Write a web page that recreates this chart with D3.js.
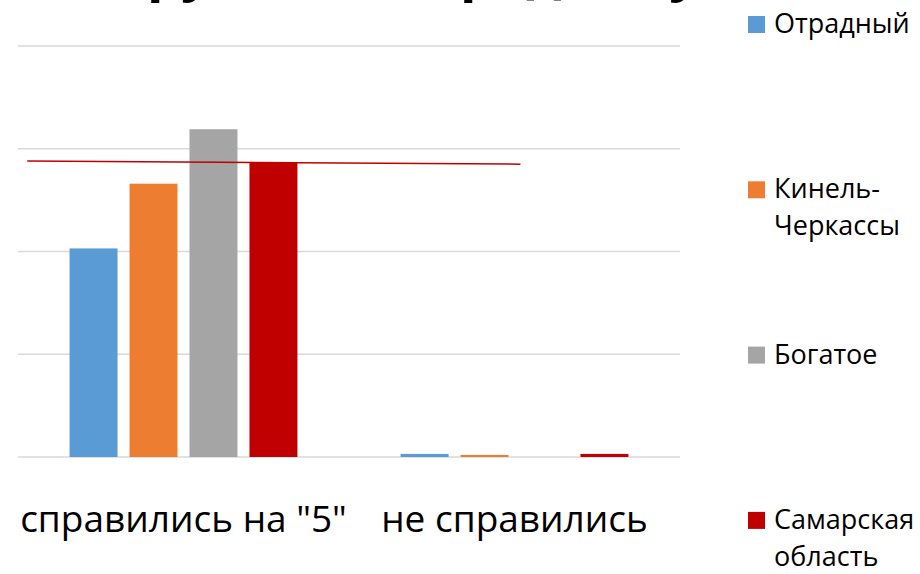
<!DOCTYPE html>
<html>
<head>
<meta charset="utf-8">
<script src="https://cdn.jsdelivr.net/npm/d3@7/dist/d3.min.js"></script>
<style>
  body { margin: 0; background: #fff; }
  svg { display: block; font-family: "Open Sans", "Noto Sans", sans-serif; }
</style>
</head>
<body>
<svg id="chart" width="920" height="574"></svg>
<script>
// data
var categories = ["справились на \"5\"", "не справились"];
var seriesNames = ["Отрадный", "Кинель-Черкассы", "Богатое", "Самарская область"];
var seriesLegend = [["Отрадный"], ["Кинель-", "Черкассы"], ["Богатое"], ["Самарская", "область"]];
var seriesColors = ["#5b9bd5", "#ed7d31", "#a5a5a5", "#c00000"];
var valuesOtradny = [20.3, 0.3];
var valuesKinel = [26.6, 0.2];
var valuesBogatoe = [31.9, 0];
var valuesSamara = [28.7, 0.3];
var yTicks = [0, 10, 20, 30, 40];
var refLine = [28.8, 28.5]; // hand drawn level line
var refLineSpan = [0.014, 0.759];
var titleText = "Результаты группы по предмету";

var allValues = [valuesOtradny, valuesKinel, valuesBogatoe, valuesSamara];

var svg = d3.select("#chart");
var plot = {left: 18, right: 680, top: 46, bottom: 457};

// title (cut by the top edge, only descenders show)
svg.append("text")
   .attr("x", 700)
   .attr("y", -10)
   .attr("text-anchor", "end")
   .attr("font-size", "54px")
   .attr("font-weight", "bold")
   .attr("fill", "#000")
   .text(titleText);

var y = d3.scaleLinear()
          .domain([0, 40])
          .range([plot.bottom, plot.top]);

var x0 = d3.scaleBand()
           .domain(categories)
           .range([plot.left, plot.right])
           .padding(0);

var x1 = d3.scaleBand()
           .domain(seriesNames)
           .range([0, x0.bandwidth()])
           .paddingInner(0.2)
           .paddingOuter(0.86);

// gridlines
svg.append("g")
   .attr("class", "grid")
   .selectAll("line")
   .data(yTicks).enter()
   .append("line")
   .attr("x1", plot.left)
   .attr("x2", plot.right)
   .attr("y1", function(d){ return y(d) })
   .attr("y2", function(d){ return y(d) })
   .attr("stroke", "#d9d9d9")
   .attr("stroke-width", 1.5);

// bars
var rows = [];
categories.forEach(function(c, ci){
	seriesNames.forEach(function(s, si){
		rows.push({cat: c, series: s, value: allValues[si][ci], color: seriesColors[si]});
	});
});

svg.append("g")
   .attr("class", "bars")
   .selectAll("rect")
   .data(rows).enter()
   .append("rect")
   .attr("x", function(d){ return x0(d.cat) + x1(d.series) })
   .attr("width", x1.bandwidth())
   .attr("y", function(d){ return y(d.value) })
   .attr("height", function(d){ return y(0) - y(d.value) })
   .attr("fill", function(d){ return d.color });

// red level line
var xr = d3.scaleLinear().domain([0, 1]).range([plot.left, plot.right]);
svg.append("line")
   .attr("x1", xr(refLineSpan[0]))
   .attr("x2", xr(refLineSpan[1]))
   .attr("y1", y(refLine[0]))
   .attr("y2", y(refLine[1]))
   .attr("stroke", "#c00000")
   .attr("stroke-width", 1.5);

// category labels
svg.append("g")
   .attr("class", "cat-labels")
   .selectAll("text")
   .data(categories).enter()
   .append("text")
   .attr("x", function(d){ return x0(d) + x0.bandwidth()/2 })
   .attr("y", 532)
   .attr("text-anchor", "middle")
   .attr("font-size", "37px")
   .attr("fill", "#000")
   .text(function(d){ return d });

// legend
var legend = svg.append("g")
                .attr("class", "legend")
                .selectAll("g")
                .data(seriesLegend).enter()
                .append("g")
                .attr("transform", function(d, i){ return "translate(748," + (16 + i*165.3) + ")" });

legend.append("rect")
      .attr("width", 17)
      .attr("height", 17)
      .attr("fill", function(d, i){ return seriesColors[i] });

legend.append("text")
      .attr("y", 17)
      .attr("font-size", "27px")
      .attr("fill", "#000")
      .selectAll("tspan")
      .data(function(d){ return d }).enter()
      .append("tspan")
      .attr("x", 26)
      .attr("dy", function(d, i){ return i == 0 ? 0 : 37 })
      .text(function(d){ return d });
</script>
</body>
</html>
